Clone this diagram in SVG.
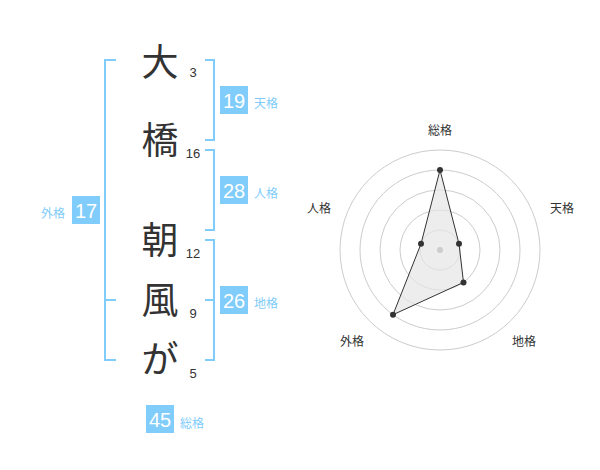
<svg xmlns="http://www.w3.org/2000/svg" width="600" height="470" viewBox="0 0 600 470">
<style>
.kanji{font-family:"Noto Sans CJK JP","Noto Sans CJK SC",sans-serif;font-size:37px;fill:#333;text-anchor:middle}
.strk{font-family:"Liberation Sans",Arial,sans-serif;font-size:13px;fill:#333;text-anchor:middle}
.box{fill:#80ccfa}
.boxnum{font-family:"Liberation Sans",Arial,sans-serif;font-size:20px;fill:#fff;text-anchor:middle}
.blbl{font-family:"Noto Sans CJK JP",sans-serif;font-size:12px;fill:#80ccfa}
.br{fill:none;stroke:#80ccfa;stroke-width:2}
.ring{fill:none;stroke:#ccc;stroke-width:1}
.axl{font-family:"Noto Sans CJK JP",sans-serif;font-size:12px;fill:#333;text-anchor:middle}
.dot{fill:#333}
</style>
<rect width="600" height="470" fill="#fff"/>
<g id="connectors">
<path class="br" d="M116,60 H105 V360 H116 M105,300 H116"/>
<path class="br" d="M205,60 H214 V140 H205"/>
<path class="br" d="M205,150 H214 V230 H205"/>
<path class="br" d="M205,240 H214 V360 H205 M214,300 H205"/>
</g>
<g id="name">
<g id="c1"><text class="kanji" x="160" y="76">大</text><text class="strk" x="193" y="77">3</text></g>
<g id="c2"><text class="kanji" x="160" y="154">橋</text><text class="strk" x="193" y="158">16</text></g>
<g id="c3"><text class="kanji" x="160" y="254">朝</text><text class="strk" x="193" y="258">12</text></g>
<g id="c4"><text class="kanji" x="160" y="314">風</text><text class="strk" x="193" y="318">9</text></g>
<g id="c5"><text class="kanji" x="160" y="373">が</text><text class="strk" x="193" y="378">5</text></g>
</g>
<g id="tenkaku"><rect class="box" x="220" y="86" width="28" height="28"/><text class="boxnum" x="234" y="107.5">19</text><text class="blbl" x="254" y="108">天格</text></g>
<g id="jinkaku"><rect class="box" x="220" y="176" width="28" height="28"/><text class="boxnum" x="234" y="197.5">28</text><text class="blbl" x="254" y="198">人格</text></g>
<g id="chikaku"><rect class="box" x="220" y="286" width="28" height="28"/><text class="boxnum" x="234" y="307.5">26</text><text class="blbl" x="254" y="308">地格</text></g>
<g id="gaikaku"><rect class="box" x="72" y="196" width="28" height="28"/><text class="boxnum" x="86" y="217.5">17</text><text class="blbl" x="41" y="218">外格</text></g>
<g id="soukaku"><rect class="box" x="146" y="405" width="28" height="28"/><text class="boxnum" x="160" y="426.5">45</text><text class="blbl" x="180" y="428">総格</text></g>
<g id="radar">
<circle class="ring" cx="440" cy="250" r="20"/>
<circle class="ring" cx="440" cy="250" r="40"/>
<circle class="ring" cx="440" cy="250" r="60"/>
<circle class="ring" cx="440" cy="250" r="80"/>
<circle class="ring" cx="440" cy="250" r="100"/>
<polygon points="440,170 459,243.8 463.5,282.4 393,314.7 421,243.8" fill="#e6e6e6" fill-opacity="0.7" stroke="#333" stroke-width="1"/>
<circle cx="440" cy="250" r="3" fill="#ccc"/>
<circle class="dot" cx="440" cy="170" r="3"/>
<circle class="dot" cx="459" cy="243.8" r="3"/>
<circle class="dot" cx="463.5" cy="282.4" r="3"/>
<circle class="dot" cx="393" cy="314.7" r="3"/>
<circle class="dot" cx="421" cy="243.8" r="3"/>
<text class="axl" x="440" y="135">総格</text>
<text class="axl" x="562" y="213">天格</text>
<text class="axl" x="524" y="346">地格</text>
<text class="axl" x="352" y="346">外格</text>
<text class="axl" x="319" y="213">人格</text>
</g>
</svg>
